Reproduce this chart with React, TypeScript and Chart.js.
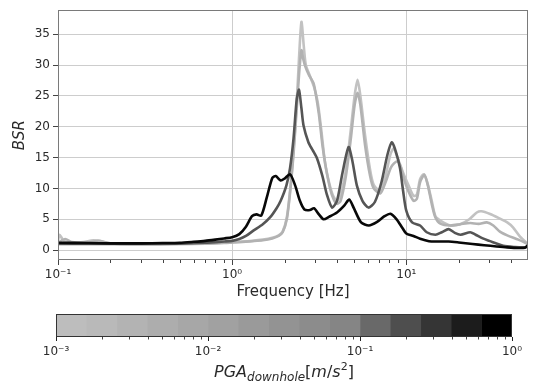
import React, { useEffect, useRef } from "react";
import { Chart, registerables } from "chart.js";
Chart.register(...registerables);

// ---------- data ----------
const FREQ_BLACK = [0.1, 0.15, 0.2, 0.3, 0.4, 0.5, 0.6, 0.7, 0.8, 0.9, 1.0, 1.1, 1.2, 1.3, 1.38, 1.47, 1.58, 1.7, 1.78, 1.9, 2.0, 2.15, 2.3, 2.45, 2.6, 2.8, 2.95, 3.15, 3.35, 3.6, 4.0, 4.4, 4.7, 5.0, 5.5, 6.1, 6.8, 7.5, 8.1, 8.8, 9.5, 10, 11, 12, 13.5, 15, 17.5, 20, 24, 28, 33, 38, 44, 48, 50];
const BSR_BLACK = [1.2, 1.15, 1.1, 1.1, 1.15, 1.2, 1.35, 1.5, 1.7, 1.9, 2.1, 2.6, 3.8, 5.5, 5.8, 5.6, 8.5, 11.7, 12.0, 11.3, 11.6, 12.3, 10.5, 8.0, 6.6, 6.5, 6.8, 5.8, 5.0, 5.4, 6.1, 7.2, 8.2, 6.8, 4.5, 4.0, 4.6, 5.5, 5.9, 5.0, 3.6, 2.7, 2.3, 1.85, 1.45, 1.4, 1.4, 1.25, 1.0, 0.8, 0.6, 0.45, 0.35, 0.4, 0.8];

const FREQ_DARK = [0.1, 0.2, 0.3, 0.5, 0.7, 0.9, 1.0, 1.1, 1.2, 1.33, 1.5, 1.65, 1.8, 1.9, 2.05, 2.15, 2.25, 2.35, 2.42, 2.5, 2.57, 2.74, 2.9, 3.07, 3.3, 3.5, 3.75, 4.0, 4.3, 4.66, 4.9, 5.2, 5.6, 6.07, 6.6, 7.2, 7.8, 8.26, 8.7, 9.2, 9.6, 10, 10.8, 12, 13.1, 14.7, 16, 17.5, 19, 20.5, 23.3, 25, 27.5, 30, 36, 42, 48, 50];
const BSR_DARK = [1.0, 1.0, 1.0, 1.05, 1.2, 1.4, 1.5, 1.8, 2.3, 3.2, 4.2, 5.3, 6.8, 8.0, 10.5, 13.3, 18, 24.5, 26.0, 23, 20.2, 17.5, 16.2, 14.9, 12.0, 9.0, 6.9, 8.0, 12.5, 16.7, 14.5, 10.5, 8.0, 6.9, 7.8, 11, 15.5, 17.5, 16, 13.3, 9.5, 6.4, 4.5, 4.0, 2.9, 2.5, 2.9, 3.4, 2.8, 2.5, 2.9, 2.5, 1.9, 1.5, 0.7, 0.5, 0.45, 0.6];

const FREQ_LIGHT_B = [0.1, 0.11, 0.12, 0.15, 0.17, 0.2, 0.3, 0.5, 0.7, 0.9, 1.1, 1.3, 1.5, 1.7, 1.85, 1.95, 2.06, 2.15, 2.25, 2.35, 2.43, 2.5, 2.56, 2.63, 2.75, 2.93, 3.0, 3.15, 3.3, 3.45, 3.65, 3.83, 4.0, 4.2, 4.5, 4.8, 5.05, 5.25, 5.45, 5.8, 6.2, 6.5, 7.1, 7.6, 8.2, 8.85, 9.3, 9.65, 10.3, 11.0, 11.5, 12.0, 12.7, 13.3, 14, 14.7, 15.7, 17.9, 20.4, 23.3, 26, 29, 31.6, 34.5, 38, 44, 50];
const BSR_LIGHT_B = [1.2, 1.8, 1.3, 1.2, 1.5, 1.1, 1.0, 1.0, 1.05, 1.15, 1.3, 1.45, 1.6, 1.9, 2.3, 2.9, 5.0, 9.3, 15.5, 23, 29, 32.4, 31, 29.8, 28.5, 27.1, 25.8, 22, 17, 13.5, 10, 8.2, 7.5, 8.0, 12, 18, 23.5, 25.5, 23.5, 17, 12, 10, 9.2, 11.0, 13.5, 14.4, 13.5, 11.7, 9.5, 8.0, 8.3, 11, 12.2, 10.5, 7.5, 5.3, 4.3, 4.0, 4.2, 4.4, 4.25, 4.5, 4.0, 3.0, 2.4, 1.7, 1.0];

const FREQ_LIGHT_A = [0.1, 0.102, 0.108, 0.12, 0.14, 0.16, 0.18, 0.2, 0.3, 0.5, 0.7, 0.9, 1.1, 1.3, 1.5, 1.7, 1.85, 1.95, 2.06, 2.15, 2.25, 2.35, 2.42, 2.5, 2.58, 2.65, 2.8, 2.95, 3.1, 3.25, 3.42, 3.6, 3.8, 4.0, 4.2, 4.5, 4.8, 5.05, 5.25, 5.45, 5.8, 6.2, 6.5, 7.1, 7.6, 8.1, 8.46, 8.9, 9.6, 10.3, 11.0, 11.5, 12.0, 12.6, 13.2, 14, 14.7, 15.7, 17.9, 20.4, 23, 25.4, 27, 30.3, 34.5, 38, 41, 45, 50];
const BSR_LIGHT_A = [1.5, 2.5, 1.5, 1.2, 1.3, 1.6, 1.4, 1.1, 1.0, 1.0, 1.1, 1.2, 1.35, 1.5, 1.7, 2.0, 2.4, 3.0, 5.3, 9.6, 16, 24, 31, 37, 33, 30, 28.2, 26.5, 24, 19.5, 14, 11, 8.8, 8.0, 9.0, 13, 19.5, 25, 27.6, 25, 18.6, 13, 10.6, 9.6, 12, 15.5, 16.5, 15, 12.5, 10.5, 8.8, 9.0, 11.5, 12.3, 11.0, 8.0, 5.5, 4.8, 4.0, 4.2, 5.0, 6.1, 6.3, 5.85, 5.1, 4.5, 3.7, 2.2, 1.0];

const X_MAJOR = [0.1, 1, 10];
const X_MAJOR_LABELS = ["10\u207B\u00B9", "10\u2070", "10\u00B9"];
const X_MINOR = [0.2, 0.3, 0.4, 0.5, 0.6, 0.7, 0.8, 0.9, 2, 3, 4, 5, 6, 7, 8, 9, 20, 30, 40];
const Y_TICKS = [0, 5, 10, 15, 20, 25, 30, 35];

const CB_EDGES = [0.001, 0.00158, 0.00251, 0.00398, 0.00631, 0.01, 0.0158, 0.0251, 0.0398, 0.0631, 0.1, 0.158, 0.251, 0.398, 0.631, 1];
const CB_COLORS = ["#bdbdbd", "#b9b9b9", "#b3b3b3", "#adadad", "#a7a7a7", "#a1a1a1", "#9a9a9a", "#939393", "#8c8c8c", "#858585", "#696969", "#4e4e4e", "#353535", "#1c1c1c", "#000000"];
const CB_MAJOR = [0.001, 0.01, 0.1, 1];
const CB_MAJOR_LABELS = ["10\u207B\u00B3", "10\u207B\u00B2", "10\u207B\u00B9", "10\u2070"];
const CB_MINOR = [0.002, 0.003, 0.004, 0.005, 0.006, 0.007, 0.008, 0.009, 0.02, 0.03, 0.04, 0.05, 0.06, 0.07, 0.08, 0.09, 0.2, 0.3, 0.4, 0.5, 0.6, 0.7, 0.8, 0.9];

const SERIES = [
  { freq: FREQ_BLACK, bsr: BSR_BLACK, color: "#080808" },
  { freq: FREQ_DARK, bsr: BSR_DARK, color: "#555555" },
  { freq: FREQ_LIGHT_B, bsr: BSR_LIGHT_B, color: "#b2b2b2" },
  { freq: FREQ_LIGHT_A, bsr: BSR_LIGHT_A, color: "#c2c2c2" },
];

const FONT = "'DejaVu Sans', sans-serif";
const TEXT = "#2a2a2a";

function makeTickPlugin(id: string, minor: number[], frameColor: string, len: number) {
  return {
    id,
    afterDraw(chart: any) {
      const { ctx, chartArea: a, scales } = chart;
      ctx.save();
      ctx.strokeStyle = "#444";
      ctx.lineWidth = 1;
      minor.forEach((v) => {
        const px = Math.round(scales.x.getPixelForValue(v)) + 0.5;
        ctx.beginPath();
        ctx.moveTo(px, a.bottom);
        ctx.lineTo(px, a.bottom + len);
        ctx.stroke();
      });
      ctx.strokeStyle = frameColor;
      ctx.strokeRect(Math.round(a.left) + 0.5, Math.round(a.top) + 0.5, Math.round(a.right - a.left) - 1, Math.round(a.bottom - a.top) - 1);
      ctx.restore();
    },
  };
}

export default function App() {
  const mainRef = useRef<HTMLCanvasElement>(null);
  const cbRef = useRef<HTMLCanvasElement>(null);

  useEffect(() => {
    const main = new Chart(mainRef.current!, {
      type: "line",
      data: {
        datasets: SERIES.map((s) => ({
          data: s.freq.map((f, i) => ({ x: f, y: s.bsr[i] })),
          borderColor: s.color,
          borderWidth: 2.6,
          pointRadius: 0,
          tension: 0.25,
          fill: false,
        })),
      },
      options: {
        animation: false,
        responsive: false,
        layout: { padding: { left: 0, right: 11, top: 6, bottom: 0 } },
        plugins: { legend: { display: false }, tooltip: { enabled: false } },
        scales: {
          x: {
            type: "logarithmic",
            min: 0.1,
            max: 50,
            afterBuildTicks: (s: any) => {
              s.ticks = X_MAJOR.map((v) => ({ value: v, major: true }));
            },
            afterFit: (s: any) => {
              s.height = 40;
            },
            grid: { color: "#cdcdcd", tickColor: "#444", tickLength: 5, lineWidth: 1 },
            border: { display: false },
            ticks: {
              autoSkip: false,
              maxRotation: 0,
              padding: 3,
              color: TEXT,
              font: { family: FONT, size: 12 },
              callback: (_v: any, i: number) => X_MAJOR_LABELS[i],
            },
            title: {
              display: true,
              text: "Frequency [Hz]",
              color: TEXT,
              font: { family: FONT, size: 15, lineHeight: 1.0 },
              padding: 0,
            },
          },
          y: {
            type: "linear",
            min: -1.6,
            max: 38.9,
            afterBuildTicks: (s: any) => {
              s.ticks = Y_TICKS.map((v) => ({ value: v }));
            },
            afterFit: (s: any) => {
              s.width = 58;
            },
            grid: { color: "#cdcdcd", tickColor: "#444", tickLength: 5, lineWidth: 1 },
            border: { display: false },
            ticks: {
              autoSkip: false,
              padding: 3,
              color: TEXT,
              font: { family: FONT, size: 12 },
            },
            title: {
              display: true,
              text: "BSR",
              color: TEXT,
              font: { family: FONT, size: 15, style: "italic", lineHeight: 1.2 },
              padding: { top: 11, bottom: 0 },
            },
          },
        },
      },
      plugins: [makeTickPlugin("mainFrame", X_MINOR, "#7a7a7a", 3)],
    } as any);

    const cb = new Chart(cbRef.current!, {
      type: "bar",
      data: {
        labels: [""],
        datasets: CB_COLORS.map((c, i) => ({
          data: [[CB_EDGES[i], CB_EDGES[i + 1]]],
          backgroundColor: c,
          borderColor: c,
          borderWidth: 0,
          barPercentage: 1,
          categoryPercentage: 1,
          grouped: false,
        })),
      },
      options: {
        animation: false,
        responsive: false,
        indexAxis: "y",
        layout: { padding: { left: 56, right: 27, top: 14, bottom: 0 } },
        plugins: { legend: { display: false }, tooltip: { enabled: false } },
        scales: {
          x: {
            type: "logarithmic",
            min: 0.001,
            max: 1,
            afterBuildTicks: (s: any) => {
              s.ticks = CB_MAJOR.map((v) => ({ value: v, major: true }));
            },
            afterFit: (s: any) => {
              s.height = 50;
            },
            grid: { drawOnChartArea: false, tickColor: "#222", tickLength: 4 },
            border: { display: false },
            ticks: {
              autoSkip: false,
              maxRotation: 0,
              padding: 4,
              color: TEXT,
              font: { family: FONT, size: 12 },
              callback: (_v: any, i: number) => CB_MAJOR_LABELS[i],
            },
          },
          y: { display: false },
        },
      },
      plugins: [makeTickPlugin("cbFrame", CB_MINOR, "#333", 2.5)],
    } as any);

    return () => {
      main.destroy();
      cb.destroy();
    };
  }, []);

  return (
    <div style={{ position: "fixed", left: 0, top: 0, width: 539, height: 387, background: "#fff", overflow: "hidden" }}>
      <canvas ref={mainRef} width={539} height={300} style={{ position: "absolute", left: 0, top: 0 }} />
      <canvas ref={cbRef} width={539} height={87} style={{ position: "absolute", left: 0, top: 300 }} />
      <div
        style={{
          position: "absolute",
          left: 0,
          top: 361,
          width: 568,
          textAlign: "center",
          fontFamily: FONT,
          fontSize: 16,
          lineHeight: "22px",
          color: TEXT,
          whiteSpace: "nowrap",
        }}
      >
        <i>PGA</i>
        <span style={{ fontSize: 12, fontStyle: "italic", position: "relative", top: 4 }}>downhole</span>
        <span>[</span>
        <i>m</i>
        <span>/</span>
        <i>s</i>
        <span style={{ fontSize: 11, position: "relative", top: -7 }}>2</span>
        <span>]</span>
      </div>
    </div>
  );
}
